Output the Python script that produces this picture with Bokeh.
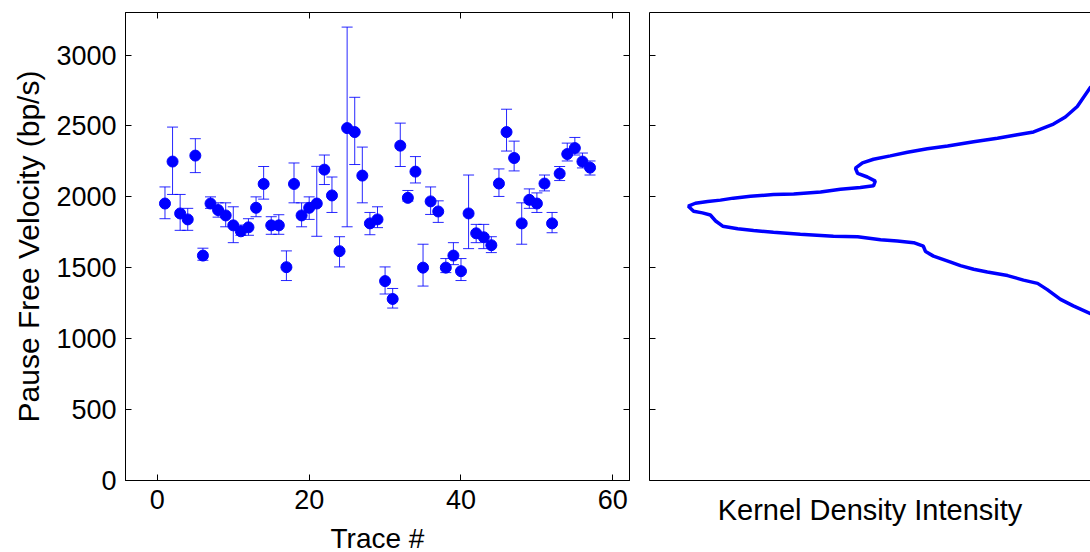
from bokeh.plotting import figure
from bokeh.layouts import row
from bokeh.models import ColumnDataSource, Whisker, TeeHead, Range1d, LinearAxis, FixedTicker
from bokeh.embed import file_html
from bokeh.resources import INLINE

# ---------------- data ----------------
trace = list(range(1, 58))
velocity = [1953, 2249, 1883, 1841, 2291, 1586, 1953, 1907, 1869, 1799,
            1757, 1785, 1923, 2091, 1799, 1799, 1504, 2091, 1869, 1923,
            1953, 2192, 2010, 1617, 2485, 2457, 2150, 1813, 1841, 1406,
            1280, 2361, 1993, 2178, 1501, 1968, 1897, 1501, 1586, 1476,
            1883, 1743, 1715, 1659, 2094, 2457, 2274, 1813, 1979, 1953,
            2094, 1813, 2164, 2302, 2344, 2249, 2206]
err_upper = [2070, 2492, 2017, 1919, 2410, 1638, 2000, 1958, 1958, 1930,
             1801, 1846, 2000, 2214, 1860, 1874, 1619, 2239, 1958, 2000,
             2215, 2295, 2140, 1719, 3197, 2702, 2351, 1890, 1930, 1506,
             1354, 2520, 2045, 2284, 1666, 2070, 1972, 1565, 1677, 1565,
             2154, 1806, 1806, 1719, 2197, 2618, 2393, 1958, 2056, 2028,
             2154, 1890, 2214, 2379, 2419, 2309, 2253]
err_lower = [1846, 2017, 1764, 1764, 2171, 1553, 1919, 1857, 1789, 1677,
             1729, 1729, 1860, 1984, 1736, 1736, 1410, 1958, 1789, 1841,
             1722, 2087, 1890, 1506, 1789, 2228, 1958, 1733, 1783, 1315,
             1216, 2214, 1970, 2098, 1371, 1876, 1820, 1466, 1522, 1410,
             1635, 1677, 1635, 1607, 2003, 2323, 2183, 1666, 1919, 1890,
             2042, 1747, 2115, 2253, 2295, 2204, 2154]

y_ticks = [0, 500, 1000, 1500, 2000, 2500, 3000]
x_ticks = [0, 20, 40, 60]

density_velocity = [2850, 2773, 2637, 2563, 2513, 2458, 2438, 2413, 2389, 2359,
                    2339, 2314, 2289, 2265, 2240, 2202, 2165, 2140, 2111, 2078,
                    2066, 2053, 2034, 2021, 2016, 2004, 1991, 1977, 1967, 1955,
                    1934, 1899, 1887, 1872, 1830, 1793, 1775, 1763, 1750, 1736,
                    1723, 1718, 1698, 1689, 1677, 1652, 1614, 1582, 1540, 1515,
                    1490, 1470, 1445, 1413, 1390, 1346, 1277, 1231, 1177, 1100]
density_intensity = [-0.05, 0.0, 0.030, 0.057, 0.084, 0.129, 0.166, 0.211, 0.265, 0.324,
                     0.370, 0.415, 0.454, 0.492, 0.517, 0.533, 0.528, 0.506, 0.488, 0.492,
                     0.522, 0.567, 0.612, 0.673, 0.719, 0.771, 0.810, 0.839, 0.868, 0.896,
                     0.912, 0.900, 0.880, 0.862, 0.850, 0.834, 0.800, 0.764, 0.719, 0.658,
                     0.583, 0.528, 0.476, 0.438, 0.401, 0.379, 0.374, 0.356, 0.317, 0.295,
                     0.265, 0.234, 0.188, 0.152, 0.120, 0.098, 0.068, 0.039, 0.0, -0.04]

FONT = "Liberation Sans"
TICK_FS = "27px"
LABEL_FS = "28px"
BLUE = "#0000ff"


def style_axis(ax, ticks, show_labels=True):
    ax.ticker = FixedTicker(ticks=ticks)
    ax.major_tick_in = 6
    ax.major_tick_out = 0
    ax.major_tick_line_color = "black"
    ax.minor_tick_line_color = None
    ax.axis_line_color = "black"
    ax.major_label_text_font = FONT
    ax.major_label_text_font_size = TICK_FS
    if show_labels:
        ax.major_label_text_color = "black"
        ax.major_label_standoff = 9
    else:
        ax.major_label_text_color = None
        ax.major_label_standoff = 0
    ax.axis_label_text_font = FONT
    ax.axis_label_text_font_size = LABEL_FS
    ax.axis_label_text_font_style = "normal"
    ax.axis_label_text_color = "black"


# ---------------- left panel ----------------
p = figure(frame_width=504, frame_height=468,
           min_border_left=125, min_border_right=10, min_border_top=12, min_border_bottom=72,
           x_range=Range1d(-4.2, 62.2), y_range=Range1d(0, 3300),
           output_backend="svg", toolbar_location=None)
p.grid.visible = False
p.outline_line_color = "black"
p.outline_line_width = 1
p.background_fill_color = "white"
p.border_fill_color = "white"

style_axis(p.xaxis[0], x_ticks)
style_axis(p.yaxis[0], y_ticks)
p.xaxis[0].axis_label = "Trace #"
p.xaxis[0].axis_label_standoff = 11
p.yaxis[0].axis_label = "Pause Free Velocity (bp/s)"
p.yaxis[0].axis_label_text_font_size = "30px"
p.yaxis[0].axis_label_standoff = 8

top_ax = LinearAxis()
style_axis(top_ax, x_ticks, show_labels=False)
p.add_layout(top_ax, "above")
right_ax = LinearAxis()
style_axis(right_ax, y_ticks, show_labels=False)
p.add_layout(right_ax, "right")

src = ColumnDataSource(dict(x=trace, y=velocity, upper=err_upper, lower=err_lower))
whisk = Whisker(base="x", upper="upper", lower="lower", source=src,
                line_color=BLUE, line_width=1, line_alpha=0.85,
                upper_head=TeeHead(size=11, line_color=BLUE, line_width=1, line_alpha=0.85),
                lower_head=TeeHead(size=11, line_color=BLUE, line_width=1, line_alpha=0.85))
p.add_layout(whisk)
p.scatter("x", "y", source=src, size=11, fill_color=BLUE, line_color=BLUE)

# ---------------- right panel ----------------
q = figure(frame_width=441, frame_height=468,
           min_border_left=10, min_border_right=0, min_border_top=12, min_border_bottom=72,
           x_range=Range1d(1.0, 0.0), y_range=Range1d(0, 3300),
           output_backend="svg", toolbar_location=None)
q.grid.visible = False
q.outline_line_color = None
q.background_fill_color = "white"
q.border_fill_color = "white"

style_axis(q.yaxis[0], y_ticks, show_labels=False)
style_axis(q.xaxis[0], [], show_labels=False)
q.xaxis[0].axis_label = "Kernel Density Intensity"
q.xaxis[0].axis_label_text_font_size = "29px"
q.xaxis[0].axis_label_standoff = 13
top_q = LinearAxis()
style_axis(top_q, [], show_labels=False)
q.add_layout(top_q, "above")

q.line(density_intensity, density_velocity, line_color=BLUE, line_width=3.5)

layout = row(p, q, spacing=0)
open("out.html", "w").write(file_html(layout, INLINE))
